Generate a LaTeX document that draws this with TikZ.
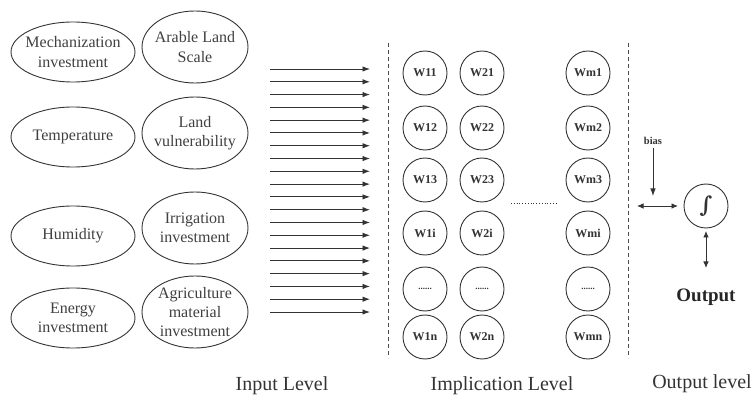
\documentclass[tikz,border=0pt]{standalone}
\usepackage{fontspec}
\setmainfont{Liberation Serif}
\newfontfamily\intfont{DejaVu Serif}
\usetikzlibrary{shapes.geometric,arrows.meta}
\begin{document}
\begin{tikzpicture}[x=1pt,y=-1pt,
  ell/.style={ellipse,draw=black!80,line width=0.9pt,inner sep=0pt},
  lell/.style={ell,minimum width=124pt,minimum height=60pt},
  rell/.style={ell,minimum width=106pt,minimum height=72pt},
  etext/.style={align=center,inner sep=0pt,font=\fontsize{16}{19.5}\selectfont,text=black!75},
  wc/.style={circle,draw=black!80,line width=0.9pt,minimum size=44pt,inner sep=0pt,
    font=\fontsize{12}{14}\selectfont\bfseries,text=black!80},
  arr/.style={-{Latex[length=7.5pt,width=5.5pt]},line width=0.9pt,draw=black!80},
  darr/.style={{Latex[length=6.5pt,width=5.5pt]}-{Latex[length=6.5pt,width=5.5pt]},line width=0.9pt,draw=black!80},
  sep/.style={dashed,dash pattern=on 4pt off 3pt,line width=0.8pt,draw=black!70},
  lvl/.style={font=\fontsize{20}{24}\selectfont,text=black!80}
]
\useasboundingbox (0,0) rectangle (756,398);

% input ellipses
\node[lell] (mech) at (73,52) {};
\node[lell] (temp) at (73,137) {};
\node[lell] (hum) at (73,236) {};
\node[lell] (ener) at (73,318) {};
\node[rell] (arab) at (195,47) {};
\node[rell] (landv) at (195,133) {};
\node[rell] (irr) at (195,228) {};
\node[rell] (agri) at (195,312) {};
\node[etext] (mecht) at (mech) {Mechanization\\investment};
\node[etext] (tempt) at (temp) {Temperature};
\node[etext] (humt) at (hum) {Humidity};
\node[etext] (enert) at (ener) {Energy\\investment};
\node[etext] (arabt) at (arab) {Arable Land\\Scale};
\node[etext] (landvt) at (landv) {Land\\vulnerability};
\node[etext] (irrt) at (irr) {Irrigation\\investment};
\node[etext,font=\fontsize{16}{19}\selectfont] (agrit) at (agri) {Agriculture\\material\\investment};

% arrows
\foreach \i in {0,...,19}{
  \coordinate (as\i) at (270,69+12.79*\i);
  \coordinate (ae\i) at (370,69+12.79*\i);
  \draw[arr] (as\i) -- (ae\i);
}

% separators
\coordinate (s1t) at (388,43); \coordinate (s1b) at (388,358);
\coordinate (s2t) at (628,43); \coordinate (s2b) at (628,358);
\draw[sep] (s1t) -- (s1b);
\draw[sep] (s2t) -- (s2b);

% weight circles
\foreach \r/\y/\lab in {1/73/1,2/128/2,3/180/3,4/233/i,6/337/n}{
  \node[wc] (w1\r) at (425,\y) {W1\lab};
  \node[wc] (w2\r) at (482,\y) {W2\lab};
  \node[wc] (wm\r) at (588,\y) {Wm\lab};
}
\foreach \c/\x in {1/425,2/482,m/588}{
  \node[wc,font=\fontsize{9}{10}\selectfont\bfseries] (w\c5) at (\x,289) {......};
}
\coordinate (dl) at (511,203); \coordinate (dr) at (557,203);
\draw[dotted,line width=0.8pt,draw=black!80] (dl) -- (dr);

% output
\node[wc,font=\fontsize{22}{24}\intfont\bfseries] (sig) at (706,206) {∫};
\node[font=\fontsize{10.5}{12}\selectfont\bfseries,text=black!80] (bias) at (653,141) {bias};
\coordinate (be) at (653,196);
\draw[arr] (bias.south) -- (be);
\coordinate (hl) at (637,206); \coordinate (hr) at (678,206);
\draw[darr] (hl) -- (hr);
\coordinate (vt) at (706,231); \coordinate (vb) at (706,268);
\draw[darr] (vt) -- (vb);
\node[font=\fontsize{19}{22}\selectfont\bfseries,text=black!85] (out) at (706,297) {Output};

% level labels
\node[lvl] (inl) at (282,386) {Input Level};
\node[lvl] (iml) at (502,386) {Implication Level};
\node[lvl] (oul) at (702,384) {Output level};
\end{tikzpicture}
\end{document}
